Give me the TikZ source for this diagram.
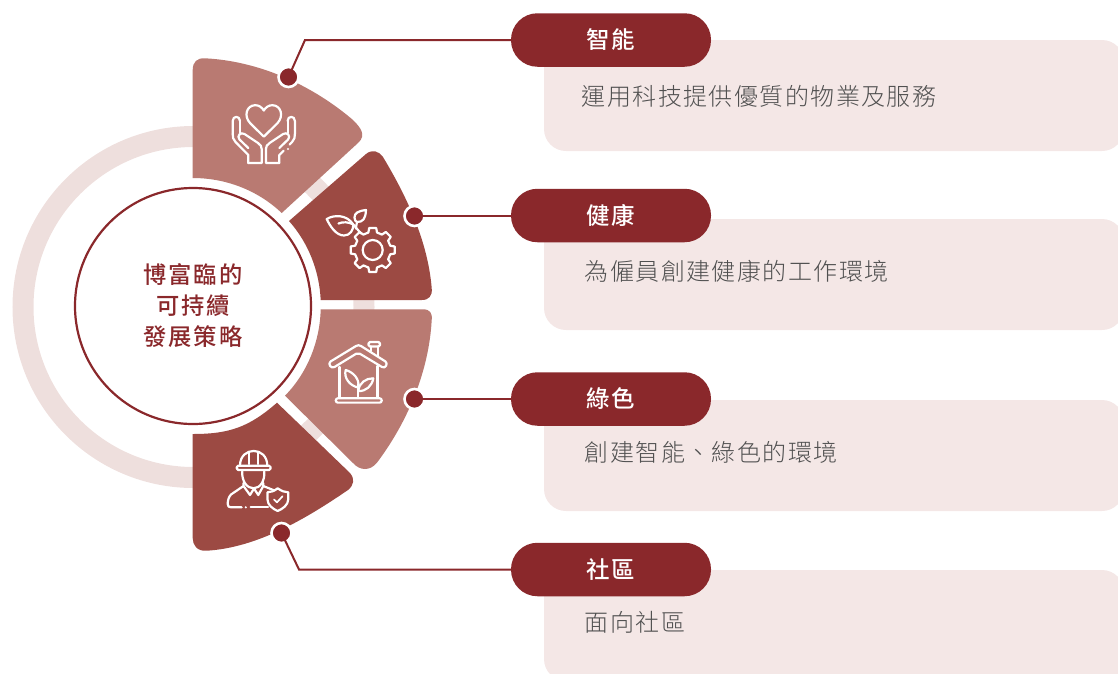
\documentclass[tikz,border=0pt]{standalone}
\usepackage{fontspec}
\newfontfamily\cjk{Noto Sans CJK TC Light}[LetterSpace=6]
\newfontfamily\cjkm{Noto Sans CJK TC Medium}[LetterSpace=5]
\newfontfamily\cjkt{Noto Sans CJK TC Medium}[LetterSpace=8]
\definecolor{deep}{HTML}{8A282B}
\definecolor{segdark}{HTML}{9C4A43}
\definecolor{seglight}{HTML}{B97A72}
\definecolor{ringc}{HTML}{EEDFDD}
\definecolor{cardc}{HTML}{F4E7E6}
\definecolor{bodyc}{HTML}{505050}
\tikzset{
  cardbox/.style={fill=cardc,rounded corners=22pt},
  pill/.style={fill=deep,text=white,rounded corners=26.5pt,minimum width=200pt,minimum height=53.5pt,inner sep=0pt,font=\fontsize{23.5}{23.5}\cjkm},
  bodytext/.style={anchor=west,inner sep=0pt,text=bodyc,font=\fontsize{24}{24}\cjk},
  dotnode/.style={circle,fill=deep,draw=white,line width=2.6pt,minimum size=20pt,inner sep=0pt},
  wire/.style={draw=deep,line width=2pt},
  icon/.style={draw=white,line width=2.2pt,line join=round,line cap=round,fill=none}
}
\newcommand{\handshape}{
  \draw[icon] (248.3,148) -- (239.5,139.5) .. controls (236.5,136) and (240.5,131.5) .. (244.5,134)
    -- (258,143) .. controls (260.5,144.7) and (261.7,146.5) .. (261.7,149) -- (261.7,163) -- (248.3,163);
  \draw[icon] (240,120.5) -- (240,133);
  \draw[icon] (232.7,134) -- (232.7,121) .. controls (232.7,115.5) and (240,115.5) .. (240,121);
}
\begin{document}
\begin{tikzpicture}[x=1pt,y=-1pt]
\useasboundingbox (0,0) rectangle (1118,673);
% cards
\fill[cardbox] (544,40) rectangle (1124,151);
\fill[cardbox] (544,219) rectangle (1124,330);
\fill[cardbox] (544,400) rectangle (1124,511);
\fill[cardbox] (544,570) rectangle (1124,681);
% ring
\draw[ringc,line width=21pt] (193.5,307) circle (170.5);
% segments
\fill[seglight] (192.7,178) -- (192.7,70) .. controls (192.7,62) and (197,57.8) .. (205,58.3)
  .. controls (259,61) and (312,85) .. (353,120)
  .. controls (360,127) and (367,135) .. (358,143)
  -- (281.7,213) .. controls (257.9,190.3) and (225.9,178) .. (192.7,178) -- cycle;
\fill[segdark] (320.7,300) .. controls (319.3,270.7) and (308.4,242.9) .. (289,221)
  -- (366,154) .. controls (372,149) and (379,151) .. (383,157)
  .. controls (407,197) and (427.7,241) .. (431.7,288)
  .. controls (432.5,296) and (429,300) .. (421.7,300) -- cycle;
\fill[seglight] (320.7,309.3) -- (423,309.3) .. controls (430,309.3) and (432.5,313) .. (431.7,320)
  .. controls (429,371) and (407.7,422) .. (376.7,463)
  .. controls (370,471) and (360,471) .. (353,463)
  -- (285,395.7) .. controls (307.5,372.7) and (319.9,341.5) .. (320.7,309.3) -- cycle;
\fill[segdark] (192.7,434) .. controls (229.7,434) and (249.1,427) .. (277,402.7)
  -- (350,473) .. controls (355,479) and (354,485) .. (348,490)
  .. controls (307,518) and (257.7,547.7) .. (206.7,550.7)
  .. controls (197,551.5) and (192.7,545) .. (192.7,538) -- cycle;
% centre
\node[circle,draw=deep,fill=white,line width=2.2pt,minimum size=236pt,inner sep=0pt] (hub) at (193,306) {};
\node[text=deep,font=\fontsize{23.3}{31}\cjkt,align=center,inner sep=0pt] (title) at (193,306) {博富臨的\\可持續\\發展策略};
% pills
\node[pill] (p1) at (611,40) {智能};
\node[pill] (p2) at (611,215.5) {健康};
\node[pill] (p3) at (611,399) {綠色};
\node[pill] (p4) at (611,569.5) {社區};
% body
\node[bodytext] (b1) at (581.5,96) {運用科技提供優質的物業及服務};
\node[bodytext] (b2) at (584.5,271) {為僱員創建健康的工作環境};
\node[bodytext] (b3) at (584.5,452) {創建智能、綠色的環境};
\node[bodytext] (b4) at (584.5,622) {面向社區};
% connectors
\coordinate (k1) at (305,40);
\coordinate (k4) at (299,569.5);
\node[dotnode] (d1) at (288.5,77) {};
\node[dotnode] (d2) at (414.5,216) {};
\node[dotnode] (d3) at (414.5,399) {};
\node[dotnode] (d4) at (281.5,533) {};
\draw[wire] (d1.center) -- (k1) -- (p1.west);
\draw[wire] (d2.center) -- (d2.center -| p2.west);
\draw[wire] (d3.center) -- (p3.west);
\draw[wire] (d4.center) -- (k4) -- (p4.west);
% icon 1: heart in hands
\draw[icon] (263.8,136.7) -- (250,123) .. controls (243.5,116) and (246.5,105.5) .. (255,105.2)
  .. controls (259,105) and (262,107.5) .. (263.8,110.5)
  .. controls (265.6,107.5) and (268.6,105) .. (272.6,105.2)
  .. controls (281,105.5) and (284,116) .. (277.6,123) -- cycle;
\handshape
\draw[icon] (248.3,163) -- (248.3,155) -- (235.5,142) .. controls (233,139.5) and (232.7,137) .. (232.7,134);
\begin{scope}[xshift=527.6pt,xscale=-1]
\handshape
\draw[icon] (248.3,163) -- (248.3,155) -- (244,150.7);
\draw[icon] (238,144.5) -- (235.5,142) .. controls (233,139.5) and (232.7,137) .. (232.7,134);
\end{scope}
\fill[white] (288,149) circle (1.2);
% icon 2: gear and leaves
\begin{scope}[shift={(372.7,250)}]
\draw[icon] (9:22.3) \foreach \a in {0,45,...,315} {
   -- (\a+9:22.3) -- (\a+14:18) -- (\a+31:18) -- (\a+36:22.3) } -- cycle;
\draw[icon] (0,0) circle (10);
\end{scope}
\draw[icon] (326.7,219) .. controls (334,214.5) and (347,214.5) .. (353.3,224.5)
  .. controls (353.5,230) and (350,235.5) .. (344,235.5) .. controls (336,235.5) and (330,226) .. (326.7,219) -- cycle;
\draw[icon] (338.5,223.5) .. controls (343,221.5) and (349,222) .. (353.3,224.5);
\draw[icon] (366,210) .. controls (358,211) and (354.5,213) .. (354.5,217.5) .. controls (354.5,220) and (355.5,221.5) .. (357,222)
  .. controls (363,222) and (365.5,219) .. (366,210) -- cycle;
\draw[icon] (357,222) -- (355.8,228.5);
\draw[icon] (353.3,224.5) -- (361,233.5);
% icon 3: house
\draw[icon] (330.5,361.5) -- (356,346) .. controls (358,345) and (359,345) .. (361,346) -- (385.5,361.5)
  .. controls (388.5,364) and (385,369) .. (382,367) -- (360,353.8) .. controls (358.5,353) and (357.5,353) .. (356,353.8) -- (334.5,367)
  .. controls (331,369) and (327.5,364) .. (330.5,361.5) -- cycle;
\draw[icon] (339.5,367) -- (339.5,398);
\draw[icon] (377.5,366) -- (377.5,398);
\draw[icon,rounded corners=2pt] (335.8,398.3) rectangle (381.7,402.6);
\draw[icon] (370.8,351) -- (370.8,346.5) (378,355.5) -- (378,346.5);
\draw[icon,rounded corners=1.5pt] (368.5,342) rectangle (380,346.5);
\draw[icon] (358.3,398) -- (358.3,384);
\draw[icon] (345.7,370) .. controls (353,372) and (360,379) .. (358.3,387.5)
  .. controls (350,386) and (343.5,378) .. (345.7,370) -- cycle;
\draw[icon] (373.3,378.3) .. controls (366,378) and (359,383) .. (358.3,391)
  .. controls (366,391.5) and (372,386) .. (373.3,378.3) -- cycle;
% icon 4: worker
\draw[icon] (240,465.7) .. controls (240,446) and (267.3,446) .. (267.3,465.7);
\draw[icon] (249,452.5) -- (249,464) (258.3,452.5) -- (258.3,464);
\draw[icon,rounded corners=1.5pt] (236.8,465.7) rectangle (270.6,470);
\draw[icon] (242.3,471.5) .. controls (241.5,481) and (247,488.3) .. (253.5,488.3) .. controls (260,488.3) and (265,481) .. (264.3,471.5);
\draw[icon] (243.5,483) -- (243.5,486) -- (231,494.5) .. controls (228.5,497) and (227.7,501) .. (227.7,504) .. controls (227.7,506.5) and (229,507.3) .. (231,507.3) -- (241.7,507.3);
\draw[icon] (243.5,486) -- (250,495) -- (254,488.5) -- (258.3,495) -- (263.3,486) -- (263.3,483);
\draw[icon] (263.3,486) -- (274.5,490.5);
\fill[white] (245.8,507.3) circle (1.2);
\draw[icon] (250.7,507.3) -- (268,507.3);
\draw[icon] (277.7,488.3) .. controls (274,491) and (271,492.3) .. (267.5,492.3) -- (267.5,499.5)
  .. controls (267.5,505) and (273,509) .. (277.7,511) .. controls (282.5,509) and (288.2,505) .. (288.2,499.5)
  -- (288.2,492.3) .. controls (284.5,492.3) and (281.5,491) .. (277.7,488.3) -- cycle;
\draw[icon,line width=1.7pt] (274,499.5) -- (277,502.3) -- (282.5,496.3);
\end{tikzpicture}
\end{document}
